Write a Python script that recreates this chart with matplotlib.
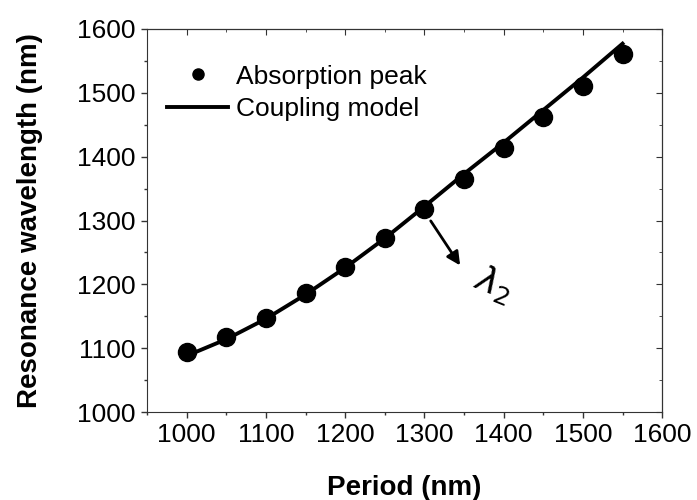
import numpy as np
import matplotlib.pyplot as plt
from matplotlib.ticker import MultipleLocator

plt.rcParams['font.family'] = ['Liberation Sans', 'DejaVu Sans']

# Данные
period = [1000, 1050, 1100, 1150, 1200, 1250, 1300, 1350, 1400, 1450, 1500, 1550]
peak = [1094, 1117, 1148, 1186, 1227, 1272, 1318, 1365, 1413, 1462, 1511, 1561]
model = [1088, 1114, 1146, 1184, 1226, 1272, 1322, 1373, 1422, 1473, 1524, 1577]

fig = plt.figure(figsize=(6.97, 5.0), dpi=100)
ax = fig.add_axes([0.211, 0.176, 0.739, 0.766])

ax.plot(period, model, color='black', linewidth=2.8, label='Coupling model')
ax.plot(period, peak, 'o', color='black', markersize=13, label='Absorption peak')

ax.set_xlim(950, 1600)
ax.set_ylim(1000, 1600)
ax.xaxis.set_major_locator(MultipleLocator(100))
ax.xaxis.set_minor_locator(MultipleLocator(50))
ax.yaxis.set_major_locator(MultipleLocator(100))
ax.yaxis.set_minor_locator(MultipleLocator(50))
ax.tick_params(which='both', direction='out', labelsize=19, color='#333333', pad=4)
ax.tick_params(which='major', length=4, width=1)
ax.tick_params(which='minor', length=2.5, width=1)
for s in ax.spines.values():
    s.set_color('#333333')

# зеркальные тики сверху и справа (внутрь)
axt = ax.secondary_xaxis('top')
axt.xaxis.set_major_locator(MultipleLocator(100))
axt.xaxis.set_minor_locator(MultipleLocator(50))
axt.tick_params(which='both', direction='in', labeltop=False, color='#333333')
axt.tick_params(which='major', length=4)
axt.tick_params(which='minor', length=2.5)
axr = ax.secondary_yaxis('right')
axr.yaxis.set_major_locator(MultipleLocator(100))
axr.yaxis.set_minor_locator(MultipleLocator(50))
axr.tick_params(which='both', direction='in', labelright=False, color='#333333')
axr.tick_params(which='major', length=4)
axr.tick_params(which='minor', length=2.5)

ax.set_xlabel('Period (nm)', fontsize=20, fontweight='bold', labelpad=20)
ax.set_ylabel('Resonance wavelength (nm)', fontsize=20, fontweight='bold', labelpad=25)

h, l = ax.get_legend_handles_labels()
leg = ax.legend(h[::-1], l[::-1], loc='upper left', frameon=False, fontsize=19,
                bbox_to_anchor=(0.039, 0.907), borderaxespad=0, borderpad=0,
                handlelength=2.3, handletextpad=0.3, labelspacing=0.32)
leg.legend_handles[0].set_markersize(8)

ax.annotate('', xy=(1347, 1226), xytext=(1306, 1303),
            arrowprops=dict(arrowstyle='-|>', color='black', lw=2,
                            mutation_scale=20))
ax.text(1388, 1200, r'$\lambda_2$', fontsize=26, rotation=-22,
        ha='center', va='center')

plt.savefig('out.png', dpi=100)
plt.close()
